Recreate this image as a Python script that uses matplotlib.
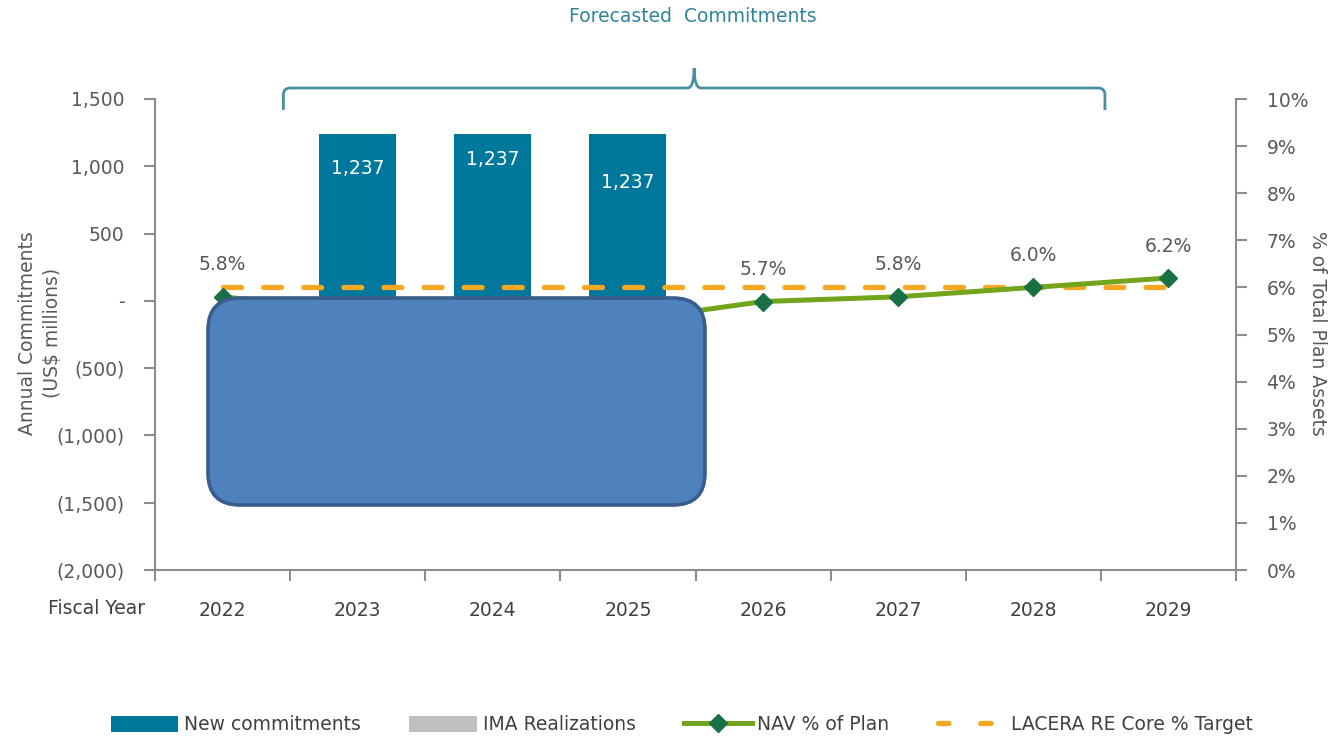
import numpy as np
import matplotlib
matplotlib.use("Agg")
import matplotlib.pyplot as plt
from matplotlib.patches import FancyBboxPatch, Patch
from matplotlib.path import Path
from matplotlib.patches import PathPatch
from matplotlib.lines import Line2D
from matplotlib.ticker import FuncFormatter, MultipleLocator
import matplotlib.transforms as mtransforms

# data
years = ["2022", "2023", "2024", "2025", "2026", "2027", "2028", "2029"]
new_commitments = [0, 1237, 1237, 1237, 0, 0, 0, 0]
ima_realizations = [0, 0, 0, 0, 0, 0, 0, 0]
nav_pct = [5.8, 5.5, 5.4, 5.3, 5.7, 5.8, 6.0, 6.2]
target_pct = [6.0, 6.0, 6.0, 6.0, 6.0, 6.0, 6.0, 6.0]
nav_labelled = [True, False, False, False, True, True, True, True]
bar_label_drop = [0, 250, 190, 355]

teal = "#00789b"
grey_bar = "#bfbfbf"
green = "#72a51b"
green_dark = "#1a7045"
orange = "#f6a823"
txt = "#595959"
axis_col = "#8c8c8c"
brace_col = "#4a8ea2"
fs = 13.5

plt.rcParams["font.family"] = ["DejaVu Sans"]

fig = plt.figure(figsize=(13.33, 7.37), dpi=100)
ax = fig.add_axes([155 / 1333, 1 - 570 / 737, 1081 / 1333, 471 / 737])
ax2 = ax.twinx()

x = np.arange(len(years))
ax.bar(x, new_commitments, width=0.57, color=teal, zorder=2)
ax.bar(x, ima_realizations, width=0.57, color=grey_bar, zorder=2)
for i, v in enumerate(new_commitments):
    if v > 0:
        ax.text(x[i], v - bar_label_drop[i], f"{v:,}", color="white",
                ha="center", va="center", fontsize=fs, zorder=3)

ax.set_xlim(-0.5, len(years) - 0.5)
ax.set_ylim(-2000, 1500)
ax.yaxis.set_major_locator(MultipleLocator(500))


def fmt_left(v, pos):
    if abs(v) < 1e-6:
        return "-"
    if v < 0:
        return f"({abs(v):,.0f})"
    return f"{v:,.0f}"


ax.yaxis.set_major_formatter(FuncFormatter(fmt_left))
ax.set_xticks(x)
ax.set_xticklabels(years)
ax.set_xticks(np.arange(-0.5, len(years), 1), minor=True)
ax.tick_params(axis="x", which="major", length=0, pad=22, labelsize=fs, labelcolor="#404040")
ax.tick_params(axis="x", which="minor", length=8, width=1.5, color=axis_col, direction="out")
ax.tick_params(axis="y", length=8, width=1.5, color=axis_col, labelsize=fs,
               labelcolor=txt, pad=14)
for s in ["top", "right"]:
    ax.spines[s].set_visible(False)
for s in ["left", "bottom"]:
    ax.spines[s].set_color(axis_col)
    ax.spines[s].set_linewidth(1.5)

ax2.plot(x, target_pct, color=orange, lw=3.8, solid_capstyle="round",
         dash_capstyle="round", linestyle=(0, (3.4, 4.2)), zorder=3)
ax2.plot(x, nav_pct, color=green, lw=3.6, marker="D", ms=9,
         mfc=green_dark, mec=green_dark, zorder=4)
for i, v in enumerate(nav_pct):
    if nav_labelled[i]:
        ax2.annotate(f"{v:.1f}%", (x[i], v), xytext=(0, 23), textcoords="offset points",
                     ha="center", va="center", fontsize=fs, color=txt)
ax2.set_ylim(0, 10)
ax2.yaxis.set_major_locator(MultipleLocator(1))
ax2.yaxis.set_major_formatter(FuncFormatter(lambda v, p: f"{v:.0f}%"))
ax2.tick_params(axis="y", length=8, width=1.5, color=axis_col, labelsize=fs,
                labelcolor=txt, pad=14)
for s in ["top", "left", "bottom"]:
    ax2.spines[s].set_visible(False)
ax2.spines["right"].set_color(axis_col)
ax2.spines["right"].set_linewidth(1.5)
ax2.set_zorder(ax.get_zorder() + 1)
ax2.patch.set_visible(False)

# axis titles
fig.text(40 / 1333, 1 - 333 / 737, "Annual Commitments\n(US$ millions)", rotation=90,
         ha="center", va="center", fontsize=fs, color=txt, linespacing=1.45)
fig.text(1318 / 1333, 1 - 333 / 737, "% of Total Plan Assets", rotation=270,
         ha="center", va="center", fontsize=fs, color=txt)
fig.text(97 / 1333, 1 - 609 / 737, "Fiscal Year", ha="center", va="center",
         fontsize=fs, color="#404040")

# redaction box
box = FancyBboxPatch((2.08, 2.32), 4.97, 2.07, boxstyle="round,pad=0,rounding_size=0.32",
                     transform=fig.dpi_scale_trans, facecolor="#4f81bd",
                     edgecolor="#385d8a", linewidth=2.6, zorder=10)
fig.patches.append(box)

# brace for forecasted commitments
tr = mtransforms.blended_transform_factory(ax.transData, fig.transFigure)
xl, xm, xr = 0.45, 3.49, 6.53
yb = 1 - 110 / 737
yt = 1 - 88 / 737
yp = 1 - 68 / 737
dx = 0.05
dy = 7 / 737
verts = [(xl, yb), (xl, yt - dy), (xl, yt), (xl + dx, yt), (xm - dx, yt),
         (xm, yt), (xm, yp), (xm, yt), (xm + dx, yt), (xr - dx, yt),
         (xr, yt), (xr, yt - dy), (xr, yb)]
codes = [Path.MOVETO, Path.LINETO, Path.CURVE3, Path.CURVE3, Path.LINETO,
         Path.CURVE3, Path.CURVE3, Path.CURVE3, Path.CURVE3, Path.LINETO,
         Path.CURVE3, Path.CURVE3, Path.LINETO]
brace = PathPatch(Path(verts, codes), transform=tr, fill=False, edgecolor=brace_col,
                  linewidth=2, clip_on=False)
fig.patches.append(brace)
fig.text(693 / 1333, 1 - 16 / 737, "Forecasted  Commitments", ha="center", va="center",
         fontsize=fs, color="#31849b")

handles = [Patch(facecolor=teal), Patch(facecolor=grey_bar),
           Line2D([], [], color=green, lw=3.6, marker="D", ms=9, mfc=green_dark, mec=green_dark),
           Line2D([], [], color=orange, lw=3.8, linestyle=(0, (2.0, 6.0)), dash_capstyle="round")]
labels = ["New commitments", "IMA Realizations", "NAV % of Plan", "LACERA RE Core % Target"]
fig.legend(handles, labels, loc="center", bbox_to_anchor=(682 / 1333, 1 - 725 / 737),
           ncol=4, frameon=False, fontsize=fs, handlelength=3.6, handleheight=1.0,
           handletextpad=0.3, columnspacing=2.6, labelcolor="#404040")

fig.savefig("out.png", dpi=100)
